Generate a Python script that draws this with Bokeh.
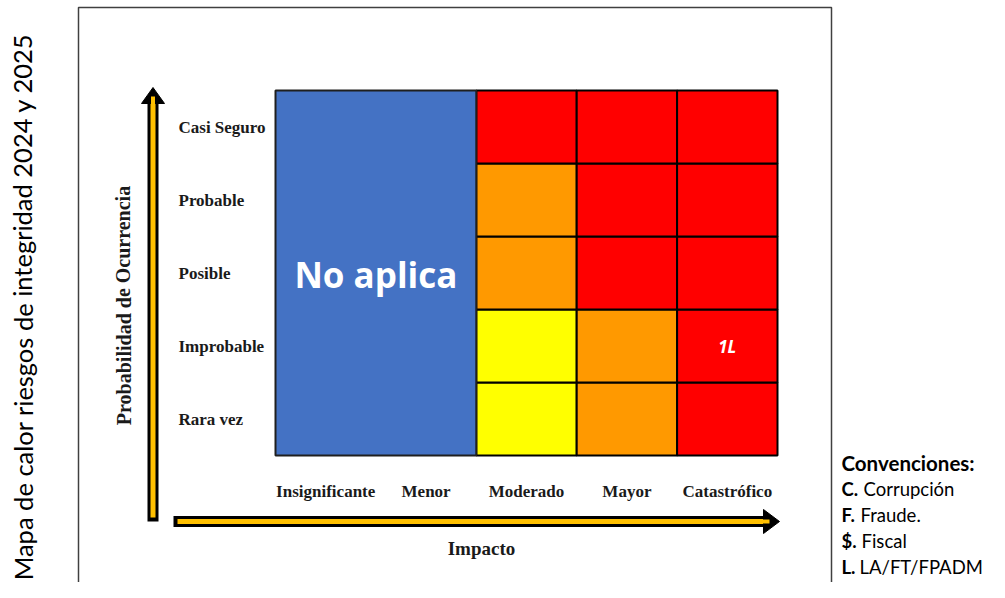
from bokeh.plotting import figure
from bokeh.models import Range1d
from bokeh.core.properties import value
from bokeh.embed import file_html
from bokeh.resources import INLINE

# ---------------- data ----------------
impacto = ["Insignificante", "Menor", "Moderado", "Mayor", "Catastrófico"]
probabilidad = ["Rara vez", "Improbable", "Posible", "Probable", "Casi Seguro"]  # bottom -> top

# risk zone per probability level (bottom -> top) for each applicable impact column
zona_moderado = ["amarillo", "amarillo", "naranja", "naranja", "rojo"]
zona_mayor = ["naranja", "naranja", "rojo", "rojo", "rojo"]
zona_catastrofico = ["rojo", "rojo", "rojo", "rojo", "rojo"]

no_aplica_impactos = ["Insignificante", "Menor"]
no_aplica_texto = "No aplica"

evento_texto = ["1L"]
evento_probabilidad = ["Improbable"]
evento_impacto = ["Catastrófico"]

conv_codigo = ["C.", "F.", "$.", "L."]
conv_texto = ["Corrupción", "Fraude.", "Fiscal", "LA/FT/FPADM"]

titulo = "Mapa de calor riesgos de integridad 2024 y 2025"
eje_y = "Probabilidad de Ocurrencia"
eje_x = "Impacto"

colores = {"rojo": "#FF0000", "naranja": "#FF9900", "amarillo": "#FFFF00"}
azul = "#4472C4"
flecha = "#FFC000"

# ---------------- layout (reference pixel geometry) ----------------
W, H = 989, 582
GL, GT, CW, RH = 275.0, 90.0, 100.4, 73.0   # grid left/top, cell width/height
GB = GT + 5 * RH


def X(px):
    return (px - GL) / CW - 0.5


def Y(py):
    return (GB - py) / RH - 0.5


p = figure(width=W, height=H, output_backend="svg", toolbar_location=None,
           x_range=Range1d(X(0), X(W)), y_range=Range1d(Y(H), Y(0)),
           min_border=0, min_border_left=0, min_border_right=0,
           min_border_top=0, min_border_bottom=0)
p.axis.visible = False
p.grid.visible = False
p.outline_line_color = None
p.background_fill_color = "white"

SERIF = value("Liberation Serif")
SANS = value("Lato")
INK = "#1a1a1a"

# outer frame
p.line([X(78), X(78), X(831), X(831)], [Y(600), Y(7), Y(7), Y(600)],
       line_color="#404040", line_width=1.5)

# heat-map cells
xs, ys, cs = [], [], []
for col_name, zonas in zip(impacto[2:], [zona_moderado, zona_mayor, zona_catastrofico]):
    ci = impacto.index(col_name)
    for ri, z in enumerate(zonas):
        xs.append(ci)
        ys.append(ri)
        cs.append(colores[z])
p.rect(x=xs, y=ys, width=1, height=1, fill_color=cs, line_color="black", line_width=2)

# "No aplica" block
na_idx = [impacto.index(n) for n in no_aplica_impactos]
na_cx = (min(na_idx) + max(na_idx)) / 2
na_w = max(na_idx) - min(na_idx) + 1
p.rect(x=[na_cx], y=[(len(probabilidad) - 1) / 2], width=na_w, height=len(probabilidad),
       fill_color=azul, line_color="#1f1f1f", line_width=2)
p.text(x=[na_cx], y=[Y(274)], text=[no_aplica_texto], text_color="white",
       text_font=value("Open Sans"), text_font_style="bold", text_font_size="35px",
       text_align="center", text_baseline="middle")

# event labels
p.text(x=[impacto.index(i) for i in evento_impacto],
       y=[probabilidad.index(r) for r in evento_probabilidad],
       text=evento_texto, text_color="white", text_font=value("Open Sans"),
       text_font_style="bold italic", text_font_size="17px",
       text_align="center", text_baseline="middle")

# category labels
p.text(x=[X(178)] * len(probabilidad), y=list(range(len(probabilidad))), text=probabilidad,
       text_font=SERIF, text_font_style="bold", text_font_size="17px",
       text_align="left", text_baseline="middle", text_color=INK)
p.text(x=list(range(len(impacto))), y=[Y(491)] * len(impacto), text=impacto,
       text_font=SERIF, text_font_style="bold", text_font_size="17px",
       text_align="center", text_baseline="middle", text_color=INK)

# axis titles
p.text(x=[X(123)], y=[Y(305)], text=[eje_y], angle=1.5708,
       text_font=SERIF, text_font_style="bold", text_font_size="20px",
       text_align="center", text_baseline="middle", text_color=INK)
p.text(x=[X(481)], y=[Y(548)], text=[eje_x],
       text_font=SERIF, text_font_style="bold", text_font_size="19px",
       text_align="center", text_baseline="middle", text_color=INK)

# arrows
# vertical
p.segment(x0=[X(152.5)], y0=[Y(521)], x1=[X(152.5)], y1=[Y(100)], line_color="black",
          line_width=11, line_cap="butt")
p.segment(x0=[X(152.5)], y0=[Y(517)], x1=[X(152.5)], y1=[Y(97)], line_color=flecha,
          line_width=5, line_cap="butt")
p.patch([X(152.5), X(141), X(164)], [Y(87), Y(103), Y(103)], fill_color="black",
        line_color="black", line_width=1)
p.segment(x0=[X(152.5)], y0=[Y(104)], x1=[X(152.5)], y1=[Y(96)], line_color=flecha,
          line_width=4, line_cap="butt")
# horizontal
p.segment(x0=[X(173)], y0=[Y(521)], x1=[X(765)], y1=[Y(521)], line_color="black",
          line_width=11, line_cap="butt")
p.segment(x0=[X(177)], y0=[Y(521)], x1=[X(767)], y1=[Y(521)], line_color=flecha,
          line_width=5, line_cap="butt")
p.patch([X(779), X(763), X(763)], [Y(521), Y(509), Y(533)], fill_color="black",
        line_color="black", line_width=1)
p.segment(x0=[X(762)], y0=[Y(521)], x1=[X(769)], y1=[Y(521)], line_color=flecha,
          line_width=4, line_cap="butt")

# vertical title
p.text(x=[X(22)], y=[Y(306)], text=[titulo], angle=1.5708,
       text_font=SANS, text_font_size="25.5px", text_align="center",
       text_baseline="middle", text_color="black")

# conventions legend
LX = 841
p.text(x=[X(LX)], y=[Y(462)], text=["Convenciones:"], text_font=SANS,
       text_font_style="bold", text_font_size="20.5px", text_align="left",
       text_baseline="middle", text_color="black")
conv_y = [Y(488), Y(514), Y(540), Y(566)]
conv_off = [LX + 22, LX + 19, LX + 20, LX + 18]
p.text(x=[X(LX)] * len(conv_codigo), y=conv_y, text=conv_codigo, text_font=SANS,
       text_font_style="bold", text_font_size="18.5px", text_align="left",
       text_baseline="middle", text_color="black")
p.text(x=[X(o) for o in conv_off], y=conv_y, text=conv_texto, text_font=SANS,
       text_font_size="18.5px", text_align="left",
       text_baseline="middle", text_color="black")

open("out.html", "w").write(file_html(p, INLINE))
